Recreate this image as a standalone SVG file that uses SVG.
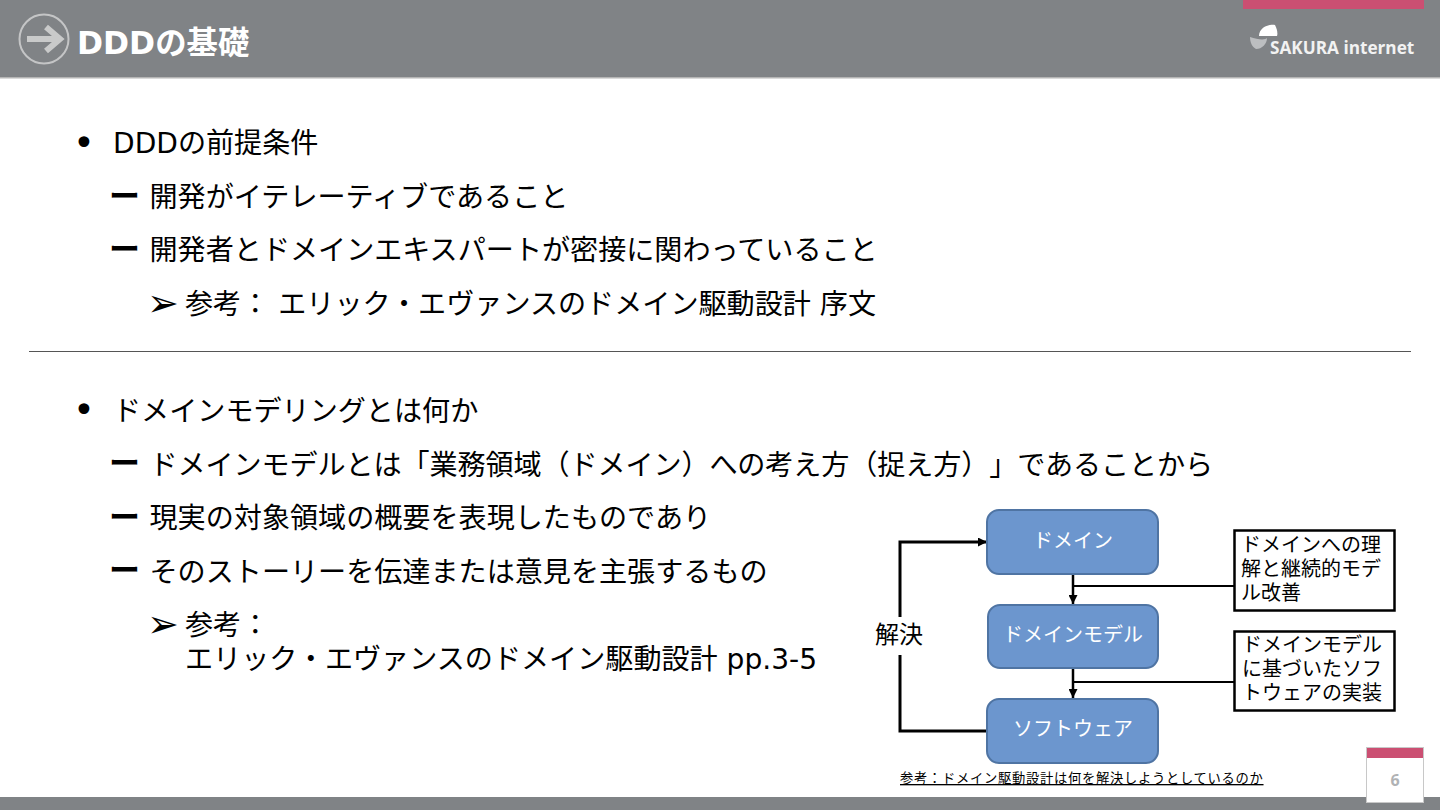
<svg xmlns="http://www.w3.org/2000/svg" width="1440" height="810" viewBox="0 0 1440 810">
<defs>
<marker id="ah" markerUnits="userSpaceOnUse" markerWidth="9" markerHeight="9" refX="9" refY="4.5" orient="auto"><path d="M0 0L9 4.5L0 9Z" fill="#000"/></marker>
</defs>
<style>
text{font-family:"DejaVu Sans","Noto Sans CJK JP",sans-serif;fill:#000;text-spacing-trim:space-all}
.b{font-size:28.1px}
.t{font-size:37px}
.a{font-size:38px}
.d{font-size:31px;font-weight:700}
.n{font-size:20px;fill:#fff;text-anchor:middle;font-family:"Noto Sans CJK JP",sans-serif}
.c{font-size:20px;font-family:"Noto Sans CJK JP",sans-serif}
.box{fill:#6C96CE;stroke:#4F74A3;stroke-width:2}
.note{fill:#fff;stroke:#000;stroke-width:2.5}
.l{fill:none;stroke:#000;stroke-width:2}
</style>
<g id="header">
<rect x="0" y="0" width="1440" height="77" fill="#808386"/>
<rect x="0" y="77" width="1440" height="1.5" fill="#b5b5b5"/>
<rect x="1243" y="0" width="181" height="9" fill="#CB4F72"/>
<circle cx="44" cy="39" r="24.500" fill="none" stroke="#c4c5c6" stroke-width="2"/>
<path d="M27 39H60M46 27L60 39L46 51" fill="none" stroke="#c9caca" stroke-width="6"/>
<text x="77" y="54" font-size="31.400" font-weight="700" style="fill:#fff">DDDの基礎</text>
<path d="M1259 36C1259 28 1268 24 1275 25C1277 29 1278 33 1277 36Z" fill="#fff"/>
<path d="M1250 37C1258 40 1266 40 1267 38C1267 44 1262 49 1256 49C1252 47 1250 42 1250 37Z" fill="#bcbec0"/>
<text x="1270" y="54" font-size="17.200" font-weight="700" style="fill:#f2f2f2;font-family:'Open Sans',sans-serif">SAKURA internet</text>
</g>
<g id="body-top">
<text class="t" x="73" y="156">•</text>
<text class="b" x="113" y="153">DDDの前提条件</text>
<text class="d" x="109" y="207">ー</text>
<text class="b" x="149.500" y="207">開発がイテレーティブであること</text>
<text class="d" x="109" y="260">ー</text>
<text class="b" x="149.500" y="260">開発者とドメインエキスパートが密接に関わっていること</text>
<text class="a" x="147" y="316">➢</text>
<text class="b" x="185" y="314">参考： エリック・エヴァンスのドメイン駆動設計 序文</text>
</g>
<rect id="divider" x="29" y="351" width="1382" height="1" fill="#555"/>
<g id="body-bottom">
<text class="t" x="73" y="423">•</text>
<text class="b" x="113" y="420.500">ドメインモデリングとは何か</text>
<text class="d" x="109" y="474">ー</text>
<text class="b" x="149.500" y="474.500" style="letter-spacing:-.1px">ドメインモデルとは「業務領域（ドメイン）への考え方（捉え方）」であることから</text>
<text class="d" x="109" y="528">ー</text>
<text class="b" x="149.500" y="528">現実の対象領域の概要を表現したものであり</text>
<text class="d" x="109" y="581">ー</text>
<text class="b" x="149.500" y="581.500">そのストーリーを伝達または意見を主張するもの</text>
<text class="a" x="147" y="637">➢</text>
<text class="b" x="185" y="635">参考：<tspan x="185" y="669">エリック・エヴァンスのドメイン駆動設計 pp.3-5</tspan></text>
</g>
<g id="connectors">
<path class="l" style="stroke-width:3" d="M988 731H900V542H987" marker-end="url(#ah)"/>
<path class="l" style="stroke-width:2.500" d="M1073 574V604" marker-end="url(#ah)"/>
<path class="l" style="stroke-width:2.500" d="M1073 669V698" marker-end="url(#ah)"/>
<path class="l" d="M1073 586H1235"/>
<path class="l" d="M1073 682H1235"/>
</g>
<g id="node-kaiketsu"><rect x="870" y="617" width="60" height="38" fill="#fff"/><text class="c" style="font-size:24px" x="875" y="643">解決</text></g>
<g id="node-domain"><rect class="box" x="987" y="510" width="171" height="64" rx="12"/><text class="n" x="1073" y="548">ドメイン</text></g>
<g id="node-model"><rect class="box" x="988" y="605" width="170" height="63" rx="12"/><text class="n" x="1073" y="642">ドメインモデル</text></g>
<g id="node-software"><rect class="box" x="987" y="699" width="171" height="64" rx="12"/><text class="n" x="1073" y="736">ソフトウェア</text></g>
<g id="note-1"><rect class="note" x="1234.500" y="530.500" width="160" height="80"/>
<text class="c" x="1241" y="552">ドメインへの理<tspan x="1241" y="576">解と継続的モデ</tspan><tspan x="1241" y="600">ル改善</tspan></text></g>
<g id="note-2"><rect class="note" x="1234.500" y="631.500" width="160" height="79"/>
<text class="c" x="1242" y="652">ドメインモデル<tspan x="1242" y="676">に基づいたソフ</tspan><tspan x="1242" y="700">トウェアの実装</tspan></text></g>
<text id="source" x="900" y="783" style="font-family:'Noto Sans CJK JP',sans-serif;font-size:13.300px;letter-spacing:.7px;text-decoration:underline">参考：ドメイン駆動設計は何を解決しようとしているのか</text>
<g id="footer">
<rect x="0" y="797" width="1440" height="13" fill="#808386"/>
<rect x="1366.500" y="747.500" width="57" height="55" fill="#fff" stroke="#c8c8c8"/>
<rect x="1367" y="748" width="56" height="10" fill="#CB4F72"/>
<text x="1395" y="786" text-anchor="middle" font-size="16" font-weight="700" style="fill:#b0b2b4;font-family:'Open Sans',sans-serif">6</text>
</g>
</svg>
